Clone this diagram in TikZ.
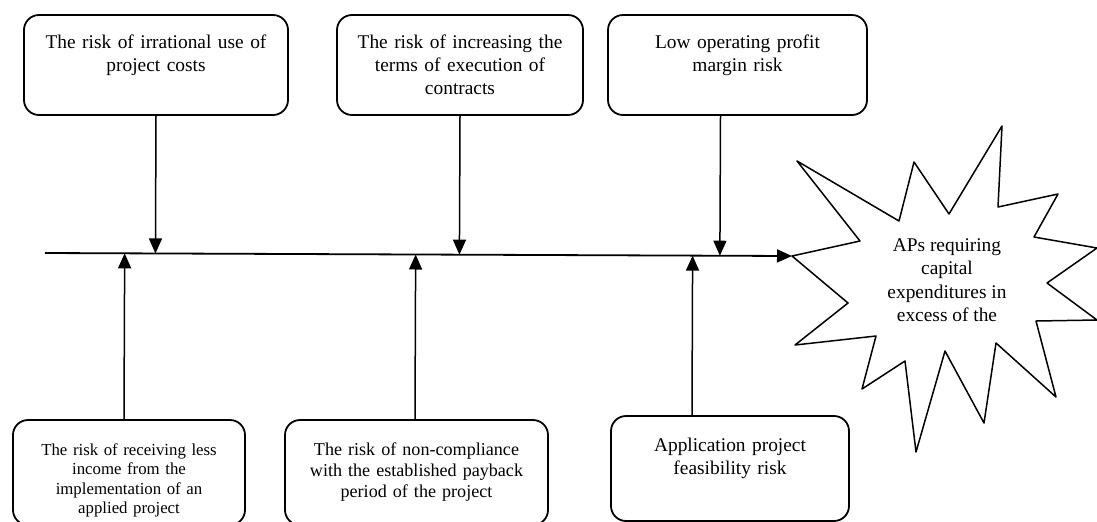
\documentclass[tikz,border=0pt]{standalone}
\usepackage{fontspec}
\setmainfont{Liberation Serif}
\usetikzlibrary{arrows.meta,calc}

\tikzset{
  riskbox/.style={draw, rounded corners=7.5pt, line width=0.9pt, align=center,
    inner sep=0pt, anchor=base, font=\fontsize{9.7}{11.5}\selectfont,
    text height=16.5pt, text depth=33.5pt},
  lowbox/.style={riskbox, text height=17.5pt, text depth=35pt},
  riskarrow/.style={line width=0.75pt, -{Triangle[length=7.5pt,width=6.5pt]}}
}

\begin{document}
\begin{tikzpicture}[x=0.5pt, y=-0.5pt, line join=round]
  \useasboundingbox (0,0) rectangle (1097,521);
  % upper risks
  \node[riskbox, text width=132pt] (top1) at (156,48) {The risk of irrational use of\\project costs};
  \node[riskbox, text width=123pt] (top2) at (460,48) {The risk of increasing the\\terms of execution of\\contracts};
  \node[riskbox, text width=129.5pt] (top3) at (737.5,48) {Low operating profit\\margin risk};
  % lower risks
  \node[lowbox, text width=116pt, font=\fontsize{8.4}{9.75}\selectfont] (low1) at (129,455) {The risk of receiving less\\income from the\\implementation of an\\applied project};
  \node[lowbox, text width=131.5pt, font=\fontsize{9.05}{10.5}\selectfont] (low2) at (416.5,455) {The risk of non-compliance\\with the established payback\\period of the project};
  \node[lowbox, text width=119pt] (low3) at (730,451) {Application project\\feasibility risk};
  % outcome
  \draw[line width=0.75pt] (792,256) -- (860,241) -- (797,161) -- (899,221) -- (914,162)
    -- (949,214) -- (1002,126) -- (998,207) -- (1058,194) -- (1034,237) -- (1097,248)
    -- (1047,283) -- (1097,320) -- (1036,321) -- (1056,397) -- (996,343) -- (984,423)
    -- (945,351) -- (916,452) -- (905,361) -- (862,389) -- (876,336) -- (795,345)
    -- (848,303) -- cycle;
  \node[align=center, inner sep=0pt, font=\fontsize{9.7}{11.75}\selectfont] (aps) at (947,280) {APs requiring\\capital\\expenditures in\\excess of the};
  % spine
  \coordinate (lstart) at (45,253);
  \coordinate (tip) at (792,256);
  \draw[line width=0.9pt, -{Triangle[length=7.5pt,width=6.5pt]}] (lstart) -- (tip);
  \foreach \n/\dx in {top1/0, top2/0, top3/-17} {
    \path ($(\n.south)+(\dx,0)$) coordinate (a);
    \draw[riskarrow] (a) -- ($(lstart)!(a)!(tip)$);
  }
  \foreach \n/\dx in {low1/-5, low2/-1.5, low3/-38} {
    \path ($(\n.north)+(\dx,0)$) coordinate (a);
    \draw[riskarrow] (a) -- ($(lstart)!(a)!(tip)$);
  }
\end{tikzpicture}
\end{document}
